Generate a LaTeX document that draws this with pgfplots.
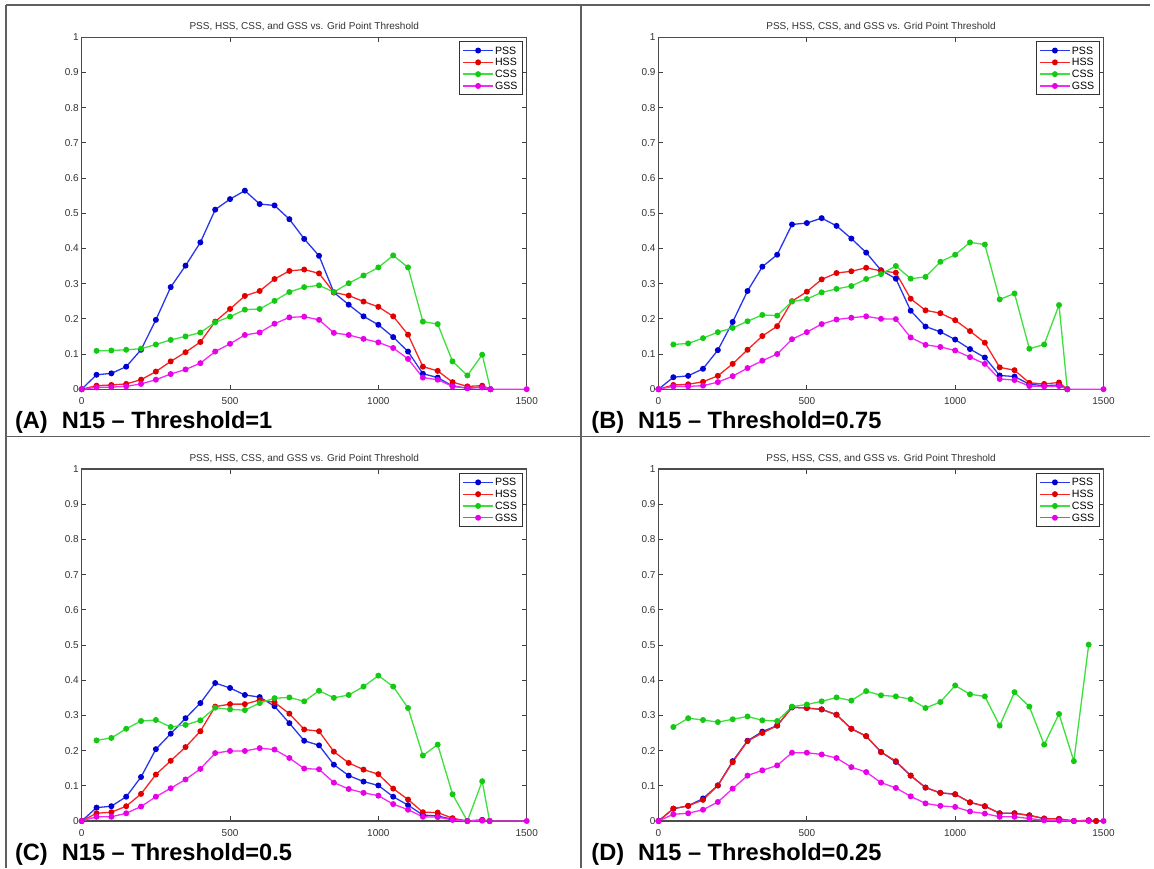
\documentclass[border=0pt]{standalone}
\usepackage{pgfplots}
\pgfplotsset{compat=1.18}
\usepackage{fontspec}
\setmainfont{Liberation Sans}
\definecolor{cpss}{RGB}{40,55,235}
\definecolor{cpssm}{RGB}{0,0,210}
\definecolor{chss}{RGB}{250,35,35}
\definecolor{chssm}{RGB}{225,0,0}
\definecolor{ccss}{RGB}{60,225,60}
\definecolor{ccssm}{RGB}{20,200,20}
\definecolor{cgss}{RGB}{245,40,245}
\definecolor{cgssm}{RGB}{230,0,230}
\definecolor{frame}{RGB}{95,95,95}
\pgfplotsset{
  pss/.style={color=cpss, mark options={fill=cpssm, draw=cpssm}},
  hss/.style={color=chss, mark options={fill=chssm, draw=chssm}},
  css/.style={color=ccss, mark options={fill=ccssm, draw=ccssm}},
  gss/.style={color=cgss, mark options={fill=cgssm, draw=cgssm}},
  panel/.style={
    scale only axis, width=222.5pt, height=176pt,
    anchor=south west,
    xmin=0, xmax=1500, ymin=0, ymax=1,
    xtick={0,500,1000,1500}, xticklabels={0,500,1000,1500},
    ytick={0,0.1,0.2,0.3,0.4,0.5,0.6,0.7,0.8,0.9,1},
    yticklabels={0,0.1,0.2,0.3,0.4,0.5,0.6,0.7,0.8,0.9,1},
    tick align=inside, tick pos=both,
    major tick length=2.3pt,
    tick style={color=black!75, line width=0.4pt},
    axis line style={color=black!70, line width=0.55pt},
    ticklabel style={font=\fontsize{5}{6}\selectfont, text=black!80},
    yticklabel style={inner sep=1.3pt},
    xticklabel style={yshift=-0.8pt},
    every axis title shift=0pt,
    title={PSS, HSS, CSS, and GSS vs. Grid Point Threshold},
    title style={font=\fontsize{5}{6}\selectfont, at={(0.5,1)}, anchor=center, yshift=5.3pt, inner sep=0pt, text=black!80},
    clip=false,
    every axis plot/.append style={line width=0.65pt, mark=*, mark size=1.15pt},
    legend cell align=left,
    legend style={at={(1,1)}, anchor=north east, xshift=-2pt, yshift=-2pt,
      draw=black!80, line width=0.45pt, fill=white,
      font=\fontsize{5.3}{6}\selectfont, inner xsep=1.6pt, inner ysep=1.5pt, row sep=0pt,
      nodes={inner sep=0.8pt, text height=3.9pt, text depth=0.4pt}},
    legend image code/.code={\draw[mark repeat=2, mark phase=2] plot coordinates {(0pt,0pt)(7.35pt,0pt)(14.7pt,0pt)};},
  }
}
\begin{document}
\begin{tikzpicture}
\useasboundingbox (0,0) rectangle (577pt,434pt);
\fill[white] (0,0) rectangle (577pt,434pt);
% frame lines
\draw[frame, line width=0.75pt] (3pt,431.5pt) -- (575pt,431.5pt);
\draw[frame, line width=0.75pt] (3pt,0pt) -- (3pt,431.5pt);
\draw[frame, line width=0.75pt] (290.5pt,0pt) -- (290.5pt,431.5pt);
\draw[frame, line width=0.75pt] (3pt,215.65pt) -- (575pt,215.65pt);

% ---------------- Panel A ----------------
\begin{axis}[panel, at={(40.85pt,239.4pt)}]
\addplot[pss] coordinates {(0,0)(50,0.041)(100,0.045)(150,0.064)(200,0.112)(250,0.197)(300,0.29)(350,0.351)(400,0.417)(450,0.51)(500,0.54)(550,0.564)(600,0.526)(650,0.522)(700,0.483)(750,0.427)(800,0.379)(850,0.275)(900,0.24)(950,0.207)(1000,0.183)(1050,0.148)(1100,0.107)(1150,0.044)(1200,0.033)(1250,0.009)(1300,0.003)(1350,0.006)(1378,0)};
\addplot[hss] coordinates {(0,0)(50,0.01)(100,0.012)(150,0.015)(200,0.027)(250,0.05)(300,0.079)(350,0.105)(400,0.134)(450,0.192)(500,0.228)(550,0.265)(600,0.279)(650,0.313)(700,0.336)(750,0.34)(800,0.329)(850,0.275)(900,0.266)(950,0.249)(1000,0.234)(1050,0.207)(1100,0.155)(1150,0.064)(1200,0.052)(1250,0.02)(1300,0.008)(1350,0.01)(1378,0)};
\addplot[css] coordinates {(50,0.109)(100,0.11)(150,0.112)(200,0.115)(250,0.127)(300,0.14)(350,0.15)(400,0.161)(450,0.19)(500,0.206)(550,0.226)(600,0.228)(650,0.251)(700,0.276)(750,0.29)(800,0.295)(850,0.276)(900,0.301)(950,0.323)(1000,0.346)(1050,0.38)(1100,0.346)(1150,0.192)(1200,0.185)(1250,0.079)(1300,0.039)(1350,0.098)(1378,0)};
\addplot[gss] coordinates {(0,0)(50,0.005)(100,0.006)(150,0.008)(200,0.015)(250,0.027)(300,0.043)(350,0.056)(400,0.074)(450,0.107)(500,0.129)(550,0.154)(600,0.161)(650,0.186)(700,0.204)(750,0.206)(800,0.197)(850,0.16)(900,0.154)(950,0.143)(1000,0.133)(1050,0.117)(1100,0.086)(1150,0.033)(1200,0.027)(1250,0.008)(1300,0.003)(1350,0.005)(1378,0)(1500,0)};
\legend{PSS,HSS,CSS,GSS}
\end{axis}

% ---------------- Panel B ----------------
\begin{axis}[panel, at={(329.25pt,239.4pt)}]
\addplot[pss] coordinates {(0,0)(50,0.034)(100,0.038)(150,0.058)(200,0.111)(250,0.191)(300,0.279)(350,0.348)(400,0.382)(450,0.468)(500,0.472)(550,0.486)(600,0.464)(650,0.428)(700,0.388)(750,0.338)(800,0.314)(850,0.223)(900,0.178)(950,0.163)(1000,0.141)(1050,0.114)(1100,0.09)(1150,0.039)(1200,0.036)(1250,0.014)(1300,0.01)(1350,0.012)(1378,0)};
\addplot[hss] coordinates {(0,0)(50,0.012)(100,0.014)(150,0.021)(200,0.038)(250,0.072)(300,0.112)(350,0.151)(400,0.179)(450,0.25)(500,0.277)(550,0.312)(600,0.33)(650,0.335)(700,0.345)(750,0.336)(800,0.331)(850,0.257)(900,0.224)(950,0.216)(1000,0.196)(1050,0.165)(1100,0.132)(1150,0.062)(1200,0.054)(1250,0.018)(1300,0.015)(1350,0.019)(1378,0)};
\addplot[css] coordinates {(50,0.127)(100,0.13)(150,0.145)(200,0.162)(250,0.174)(300,0.193)(350,0.211)(400,0.209)(450,0.249)(500,0.256)(550,0.275)(600,0.285)(650,0.293)(700,0.313)(750,0.327)(800,0.35)(850,0.314)(900,0.319)(950,0.362)(1000,0.382)(1050,0.417)(1100,0.411)(1150,0.255)(1200,0.272)(1250,0.115)(1300,0.127)(1350,0.239)(1378,0)};
\addplot[gss] coordinates {(0,0)(50,0.008)(100,0.008)(150,0.01)(200,0.02)(250,0.037)(300,0.06)(350,0.081)(400,0.1)(450,0.142)(500,0.162)(550,0.185)(600,0.198)(650,0.203)(700,0.207)(750,0.2)(800,0.199)(850,0.147)(900,0.126)(950,0.12)(1000,0.11)(1050,0.091)(1100,0.072)(1150,0.029)(1200,0.026)(1250,0.009)(1300,0.008)(1350,0.009)(1378,0)(1500,0)};
\legend{PSS,HSS,CSS,GSS}
\end{axis}

% ---------------- Panel C ----------------
\begin{axis}[panel, at={(40.85pt,23.5pt)}]
\addplot[pss] coordinates {(0,0)(50,0.038)(100,0.042)(150,0.069)(200,0.125)(250,0.204)(300,0.248)(350,0.292)(400,0.335)(450,0.392)(500,0.378)(550,0.358)(600,0.352)(650,0.326)(700,0.278)(750,0.228)(800,0.215)(850,0.16)(900,0.129)(950,0.112)(1000,0.101)(1050,0.069)(1100,0.045)(1150,0.017)(1200,0.014)(1250,0.005)(1300,0)(1350,0.003)(1375,0)};
\addplot[hss] coordinates {(0,0)(50,0.022)(100,0.025)(150,0.042)(200,0.077)(250,0.132)(300,0.171)(350,0.21)(400,0.255)(450,0.325)(500,0.332)(550,0.332)(600,0.344)(650,0.337)(700,0.305)(750,0.26)(800,0.255)(850,0.197)(900,0.165)(950,0.146)(1000,0.133)(1050,0.092)(1100,0.061)(1150,0.025)(1200,0.024)(1250,0.008)(1300,0)(1350,0.003)(1375,0)};
\addplot[css] coordinates {(50,0.229)(100,0.236)(150,0.262)(200,0.284)(250,0.287)(300,0.267)(350,0.273)(400,0.286)(450,0.322)(500,0.317)(550,0.315)(600,0.335)(650,0.349)(700,0.351)(750,0.34)(800,0.37)(850,0.35)(900,0.358)(950,0.382)(1000,0.413)(1050,0.382)(1100,0.321)(1150,0.186)(1200,0.217)(1250,0.076)(1300,0)(1350,0.113)(1375,0)};
\addplot[gss] coordinates {(0,0)(50,0.012)(100,0.012)(150,0.022)(200,0.041)(250,0.069)(300,0.093)(350,0.118)(400,0.148)(450,0.193)(500,0.199)(550,0.199)(600,0.207)(650,0.203)(700,0.179)(750,0.149)(800,0.147)(850,0.109)(900,0.091)(950,0.08)(1000,0.072)(1050,0.048)(1100,0.032)(1150,0.012)(1200,0.011)(1250,0.003)(1300,0)(1350,0.001)(1375,0)(1500,0)};
\legend{PSS,HSS,CSS,GSS}
\end{axis}

% ---------------- Panel D ----------------
\begin{axis}[panel, at={(329.25pt,23.5pt)}]
\addplot[pss] coordinates {(0,0)(50,0.035)(100,0.043)(150,0.064)(200,0.101)(250,0.17)(300,0.228)(350,0.254)(400,0.271)(450,0.323)(500,0.321)(550,0.317)(600,0.302)(650,0.262)(700,0.241)(750,0.196)(800,0.168)(850,0.129)(900,0.095)(950,0.08)(1000,0.076)(1050,0.053)(1100,0.042)(1150,0.022)(1200,0.022)(1250,0.016)(1300,0.007)(1350,0.006)(1400,0)(1450,0.002)(1475,0)};
\addplot[hss] coordinates {(0,0)(50,0.035)(100,0.043)(150,0.06)(200,0.101)(250,0.167)(300,0.227)(350,0.25)(400,0.271)(450,0.323)(500,0.321)(550,0.317)(600,0.302)(650,0.262)(700,0.241)(750,0.196)(800,0.17)(850,0.129)(900,0.095)(950,0.08)(1000,0.076)(1050,0.053)(1100,0.042)(1150,0.022)(1200,0.022)(1250,0.016)(1300,0.007)(1350,0.006)(1400,0)(1450,0.002)(1475,0)};
\addplot[css] coordinates {(50,0.267)(100,0.292)(150,0.287)(200,0.281)(250,0.289)(300,0.297)(350,0.286)(400,0.284)(450,0.325)(500,0.331)(550,0.34)(600,0.351)(650,0.342)(700,0.369)(750,0.357)(800,0.354)(850,0.346)(900,0.321)(950,0.338)(1000,0.385)(1050,0.36)(1100,0.354)(1150,0.271)(1200,0.366)(1250,0.325)(1300,0.217)(1350,0.304)(1400,0.17)(1450,0.501)};
\addplot[gss] coordinates {(0,0)(50,0.019)(100,0.022)(150,0.032)(200,0.054)(250,0.092)(300,0.129)(350,0.144)(400,0.158)(450,0.194)(500,0.194)(550,0.189)(600,0.179)(650,0.153)(700,0.139)(750,0.109)(800,0.094)(850,0.07)(900,0.05)(950,0.043)(1000,0.04)(1050,0.027)(1100,0.021)(1150,0.012)(1200,0.012)(1250,0.007)(1300,0.002)(1350,0.001)(1400,0)(1450,0)(1500,0)};
\legend{PSS,HSS,CSS,GSS}
\end{axis}

% panel labels
\begin{scope}[every node/.style={anchor=base west, inner sep=0pt, font=\fontsize{11.8}{14}\selectfont\bfseries}]
\node at (7.35pt,219.85pt) {(A)\hspace{7pt}N15 -- Threshold=1};
\node at (295.5pt,219.85pt) {(B)\hspace{7pt}N15 -- Threshold=0.75};
\node at (7.35pt,3.65pt) {(C)\hspace{7pt}N15 -- Threshold=0.5};
\node at (295.5pt,3.65pt) {(D)\hspace{7pt}N15 -- Threshold=0.25};
\end{scope}
\end{tikzpicture}
\end{document}
